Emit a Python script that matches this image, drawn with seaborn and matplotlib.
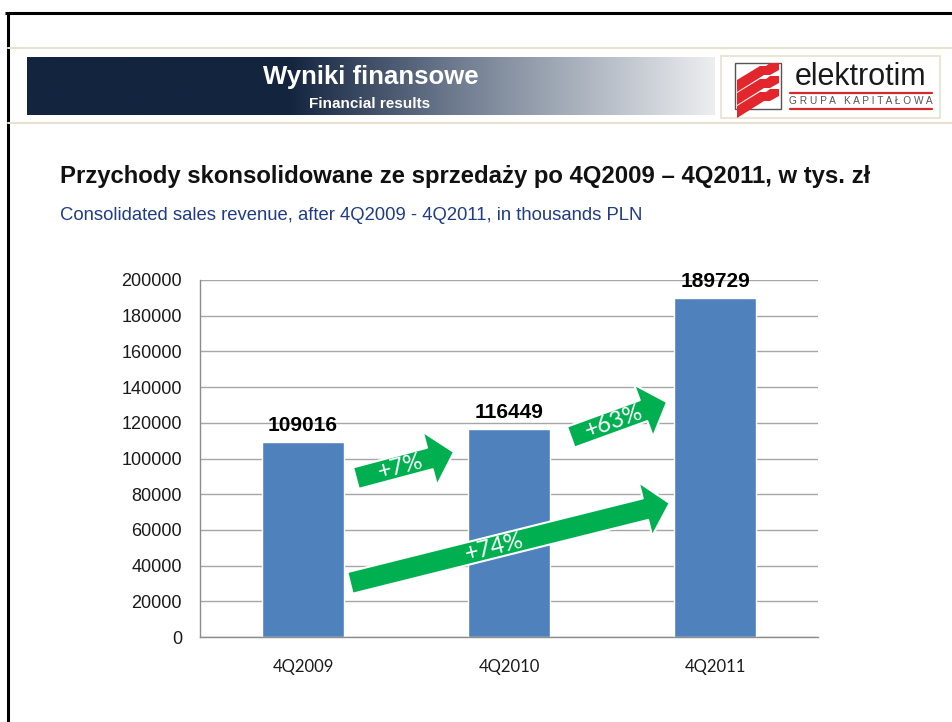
#!/usr/bin/env python3
"""
Elektrotim - consolidated sales revenue 4Q2009 - 4Q2011
Slide-style bar chart with growth arrows
"""

import numpy as np
import pandas as pd
import matplotlib
matplotlib.use('Agg')
import matplotlib.pyplot as plt
from matplotlib.colors import LinearSegmentedColormap
from matplotlib.patches import FancyArrowPatch, Rectangle, Polygon
import seaborn as sns

# --- data -------------------------------------------------------------
quarters = ['4Q2009', '4Q2010', '4Q2011']
revenue = [109016, 116449, 189729]

# growth arrows: (label, start (x, y), end (x, y)) in data units
growth_labels = ['+7%', '+63%', '+74%']
arrow_starts = [(0.257, 89000), (1.30, 112000), (0.228, 30300)]
arrow_ends = [(0.733, 103600), (1.767, 131600), (1.780, 75000)]

yticks = list(range(0, 200001, 20000))

BAR_BLUE = '#4F81BD'
ARROW_GREEN = '#00B050'
NAVY = '#13243F'
SUB_BLUE = '#1F3C84'
BEIGE = '#E6E2CF'
GRID = '#A6A6A6'

sns.set_theme(style='white')
plt.rcParams['font.family'] = ['Liberation Sans', 'DejaVu Sans']

fig = plt.figure(figsize=(9.52, 7.22), dpi=100)

# --- slide decoration (pixel coords) -----------------------------------
bg = fig.add_axes([0, 0, 1, 1])
bg.set_xlim(0, 952)
bg.set_ylim(722, 0)
bg.axis('off')

# slide frame
bg.plot([5, 952], [12.5, 12.5], color='black', lw=2.2, solid_capstyle='butt')
bg.plot([7.5, 7.5], [12, 722], color='black', lw=2.2, solid_capstyle='butt')
bg.plot([8, 952], [48, 48], color=BEIGE, lw=1.5)
bg.plot([8, 952], [123, 123], color=BEIGE, lw=1.5)

# gradient banner
grad = LinearSegmentedColormap.from_list(
    'banner', [(0, NAVY), (0.38, NAVY), (0.62, '#6D7A8E'), (1, '#ECEEF0')])
bg.imshow(np.linspace(0, 1, 256).reshape(1, -1), cmap=grad, aspect='auto',
          extent=[27, 715, 115, 57], zorder=1)
bg.text(371, 77, 'Wyniki finansowe', color='white', fontsize=18.5,
        fontweight='bold', ha='center', va='center', zorder=2)
bg.text(370, 104, 'Financial results', color='white', fontsize=11,
        fontweight='bold', ha='center', va='center', zorder=2)

# logo box
bg.add_patch(Rectangle((721, 56), 219, 62, facecolor='white',
                       edgecolor=BEIGE, lw=1.2, zorder=1))
bg.add_patch(Rectangle((735, 63), 46, 46, facecolor='white',
                       edgecolor='#555555', lw=1, zorder=2))
for dy in (0, 13, 26):
    stripe = Polygon([(737, 80 + dy), (760, 66 + dy), (766, 66 + dy),
                      (770, 63 + dy), (779, 63 + dy), (779, 70 + dy),
                      (770, 75 + dy), (764, 75 + dy), (737, 92 + dy)],
                     closed=True, facecolor='#E3262B', edgecolor='none',
                     zorder=3)
    stripe.set_clip_path(Rectangle((735, 63), 46, 46, transform=bg.transData))
    bg.add_patch(stripe)
bg.text(861, 77, 'elektrotim', color='#1A1A1A', fontsize=22,
        ha='center', va='center', zorder=3)
bg.plot([790, 932], [93, 93], color='#D62A2A', lw=1.6, zorder=3)
bg.text(861, 101, 'G R U P A   K A P I T A Ł O W A', color='#555555',
        fontsize=7.3, ha='center', va='center', zorder=3)
bg.plot([790, 932], [109, 109], color='#D62A2A', lw=1.6, zorder=3)

# titles
bg.text(60, 177, 'Przychody skonsolidowane ze sprzedaży po 4Q2009 – 4Q2011, w tys. zł',
        color='#111111', fontsize=17.2, fontweight='bold', ha='left', va='center')
bg.text(60, 216, 'Consolidated sales revenue, after 4Q2009 - 4Q2011, in thousands PLN',
        color=SUB_BLUE, fontsize=13.3, ha='left', va='center')

# --- chart ------------------------------------------------------------
ax = fig.add_axes([200 / 952, (722 - 637) / 722, 618 / 952, 357 / 722])
df = pd.DataFrame({'quarter': quarters, 'revenue': revenue})
sns.barplot(data=df, x='quarter', y='revenue', color=BAR_BLUE, saturation=1,
            width=0.4, ax=ax, zorder=2)

ax.set_xlim(-0.5, len(quarters) - 0.5)
ax.set_ylim(0, 200000)
ax.set_yticks(yticks)
ax.set_yticklabels([str(t) for t in yticks], fontsize=13, color='#1A1A1A')
ax.set_xlabel('')
ax.set_ylabel('')
ax.grid(axis='y', color=GRID, lw=1, zorder=0)
ax.set_axisbelow(True)
for side in ('top', 'right'):
    ax.spines[side].set_visible(False)
for side in ('left', 'bottom'):
    ax.spines[side].set_color('#8C8C8C')
    ax.spines[side].set_linewidth(1)

# category labels without ticks, tick marks at category boundaries
ax.tick_params(axis='x', which='major', length=0, pad=16)
ax.set_xticks(np.arange(-0.5, len(quarters)), minor=True)
ax.tick_params(axis='x', which='minor', length=5, width=1, color='#8C8C8C',
               direction='out')
ax.tick_params(axis='y', length=5, width=1, color='#8C8C8C', direction='out', pad=8)
for lbl in ax.get_xticklabels():
    lbl.set_fontfamily(['Lato', 'DejaVu Sans'])
    lbl.set_fontsize(12)
    lbl.set_color('#1A1A1A')

# value labels
for i, v in enumerate(revenue):
    ax.annotate(str(v), (i, v), xytext=(0, 5), textcoords='offset points',
                ha='center', va='bottom', fontsize=15, fontweight='bold',
                color='black')

# growth arrows
fig.canvas.draw()
for lab, (x0, y0), (x1, y1) in zip(growth_labels, arrow_starts, arrow_ends):
    arr = FancyArrowPatch((x0, y0), (x1, y1), transform=ax.transData,
                          arrowstyle='simple,head_length=18,head_width=40,tail_width=16',
                          mutation_scale=1, shrinkA=0, shrinkB=0,
                          facecolor=ARROW_GREEN, edgecolor='white', lw=1.5,
                          zorder=5, clip_on=False)
    ax.add_patch(arr)
    p0 = ax.transData.transform((x0, y0))
    p1 = ax.transData.transform((x1, y1))
    ang = np.degrees(np.arctan2(p1[1] - p0[1], p1[0] - p0[0]))
    # centre of the shaft (without the head)
    frac = 0.45
    px = p0 + (p1 - p0) * frac
    tx, ty = ax.transData.inverted().transform(px)
    ax.text(tx, ty, lab, rotation=ang, rotation_mode='anchor', ha='center',
            va='center', color='white', fontsize=17, zorder=6,
            family=['Lato', 'DejaVu Sans'])

fig.savefig('out.png', dpi=100, facecolor='white')
print('Saved: out.png')
